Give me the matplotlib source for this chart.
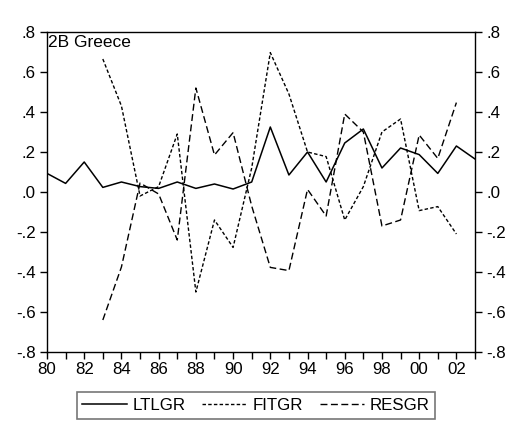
import matplotlib
matplotlib.use("Agg")
import matplotlib.pyplot as plt
from matplotlib.ticker import MultipleLocator, FuncFormatter

plt.rcParams['font.family'] = ['Liberation Sans', 'DejaVu Sans']

years_all = list(range(1980, 2004))
ltlgr = [0.093, 0.043, 0.15, 0.023, 0.05, 0.027, 0.018, 0.05, 0.018, 0.04,
         0.015, 0.05, 0.325, 0.085, 0.2, 0.05, 0.245, 0.315, 0.12, 0.22,
         0.187, 0.093, 0.23, 0.165]
years_fit = list(range(1983, 2003))
fitgr = [0.665, 0.43, -0.02, 0.027, 0.29, -0.5, -0.14, -0.277, 0.12, 0.697,
         0.49, 0.2, 0.177, -0.14, 0.027, 0.30, 0.365, -0.093, -0.073, -0.21]
resgr = [-0.64, -0.375, 0.045, -0.01, -0.24, 0.52, 0.185, 0.297, -0.07, -0.377,
         -0.393, 0.013, -0.12, 0.39, 0.30, -0.17, -0.14, 0.285, 0.168, 0.447]

fig = plt.figure(figsize=(5.12, 4.28), dpi=100)
ax = fig.add_axes([47/512, 1-352/428, 428/512, 320/428])

ax.plot(years_all, ltlgr, color='black', lw=1.1, label='LTLGR')
ax.plot(years_fit, fitgr, color='black', lw=1.0, linestyle=(0, (2.5, 1.6)), label='FITGR')
ax.plot(years_fit, resgr, color='black', lw=1.0, linestyle=(0, (5, 2.5)), label='RESGR')

ax.set_xlim(1980, 2003)
ax.set_ylim(-0.8, 0.8)
ax.yaxis.set_major_locator(MultipleLocator(0.2))

def yfmt(v, pos):
    s = f"{v:.1f}"
    if s == "-0.0":
        s = "0.0"
    return s.replace("0.", ".", 1)

ax.yaxis.set_major_formatter(FuncFormatter(yfmt))
ax.xaxis.set_major_locator(MultipleLocator(2))
ax.xaxis.set_minor_locator(MultipleLocator(1))
ax.xaxis.set_major_formatter(FuncFormatter(lambda v, p: f"{int(round(v)) % 100:02d}"))

ax.tick_params(axis='y', which='both', direction='out', length=5, width=1,
               left=True, right=True, labelleft=True, labelright=True, labelsize=12.2, pad=3)
ax.tick_params(axis='x', which='both', direction='out', length=5, width=1,
               bottom=True, top=False, labelsize=12.2, pad=2)
for s in ax.spines.values():
    s.set_linewidth(1.0)

ax.text(0.002, 0.99, '2B Greece', transform=ax.transAxes, ha='left', va='top', fontsize=12.5)

leg = fig.legend(loc='lower center', bbox_to_anchor=(0.5, 1/428), ncol=3, frameon=True,
                 fancybox=False, edgecolor='#555555', fontsize=12.2, handlelength=2.6,
                 columnspacing=1.0, handletextpad=0.35, borderpad=0.35)
leg.get_frame().set_linewidth(1.2)

fig.savefig('out.png', dpi=100)
